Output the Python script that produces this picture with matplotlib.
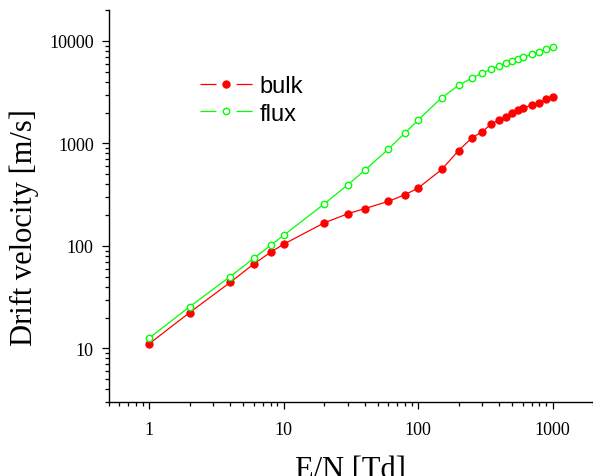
import matplotlib
matplotlib.use("Agg")
import matplotlib.pyplot as plt
from matplotlib.lines import Line2D
from matplotlib.ticker import LogLocator, NullFormatter, FuncFormatter

plt.rcParams["lines.scale_dashes"] = False

# Data
en_td = [1, 2, 4, 6, 8, 10, 20, 30, 40, 60, 80, 100, 150, 200, 250, 300,
         350, 400, 450, 500, 550, 600, 700, 800, 900, 1000]
bulk = [11.1, 22.4, 44, 66.8, 86.7, 104, 167.5, 206, 231, 272, 316, 367, 557,
        853, 1125, 1306, 1541, 1711, 1804, 1974, 2110, 2205, 2376, 2467, 2716, 2844]
flux = [12.6, 25.5, 50.2, 75.7, 101.4, 126.8, 256.6, 395, 545, 879, 1267, 1690,
        2800, 3680, 4330, 4860, 5290, 5710, 6055, 6400, 6640, 6925, 7400, 7870,
        8290, 8790]
series_labels = ["bulk", "flux"]
x_label = "E/N [Td]"
y_label = "Drift velocity [m/s]"

W, H = 593, 477
fig = plt.figure(figsize=(W / 100, H / 100), dpi=100)
ax = fig.add_axes([108.7 / W, (H - 403) / H, (W - 108.7) / W, (403 - 11.1) / H])

red = "#ff0000"
green = "#00ff00"
ax.plot(en_td, bulk, color=red, lw=0.9, marker="o", ms=5.2, mfc=red, mec=red,
        mew=0.8, zorder=3)
ax.plot(en_td, flux, color=green, lw=0.9, marker="o", ms=4.6, mfc="white",
        mec=green, mew=1.0, zorder=3)

ax.set_xscale("log")
ax.set_yscale("log")
ax.set_xlim(0.5, 2000)
ax.set_ylim(3, 20000)

for s in ["top", "right"]:
    ax.spines[s].set_visible(False)
for s in ["left", "bottom"]:
    ax.spines[s].set_linewidth(1.0)

fmt = FuncFormatter(lambda v, p: f"{v:g}")
for a in (ax.xaxis, ax.yaxis):
    a.set_major_locator(LogLocator(base=10, numticks=10))
    a.set_minor_locator(LogLocator(base=10, subs=range(2, 10), numticks=100))
    a.set_major_formatter(fmt)
    a.set_minor_formatter(NullFormatter())

ax.tick_params(which="major", direction="out", length=4.8, width=0.9,
               labelsize=13)
ax.tick_params(which="minor", direction="out", length=2.6, width=0.9)
ax.tick_params(axis="y", which="major", pad=6)
ax.tick_params(axis="x", which="major", pad=9)
for lab in ax.get_xticklabels() + ax.get_yticklabels():
    lab.set_fontfamily("Liberation Serif")

ax.set_xlabel(x_label, fontsize=22, fontfamily="Liberation Serif")
ax.set_ylabel(y_label, fontsize=22, fontfamily="Liberation Serif")
ax.xaxis.set_label_coords(0.5, -0.134)
ax.yaxis.set_label_coords(-0.143, 0.447)

# legend with gapped lines around marker
h1 = Line2D([], [], color=red, lw=0.9, ls=(0, (11.5, 14.5)), marker="o",
            ms=5.2, mfc=red, mec=red, mew=0.8)
h2 = Line2D([], [], color=green, lw=0.9, ls=(0, (11.5, 14.5)), marker="o",
            ms=4.6, mfc="white", mec=green, mew=1.0)
fig_to_ax = ax.transAxes.inverted()
x0, y0 = fig_to_ax.transform((200, H - 76))
leg = ax.legend([h1, h2], series_labels, loc="upper left",
                bbox_to_anchor=(x0, y0), frameon=False, borderpad=0,
                borderaxespad=0, handlelength=2.23, handletextpad=0.3,
                labelspacing=0.24, prop={"family": "Liberation Sans", "size": 17})

fig.savefig("out.png", dpi=100)
